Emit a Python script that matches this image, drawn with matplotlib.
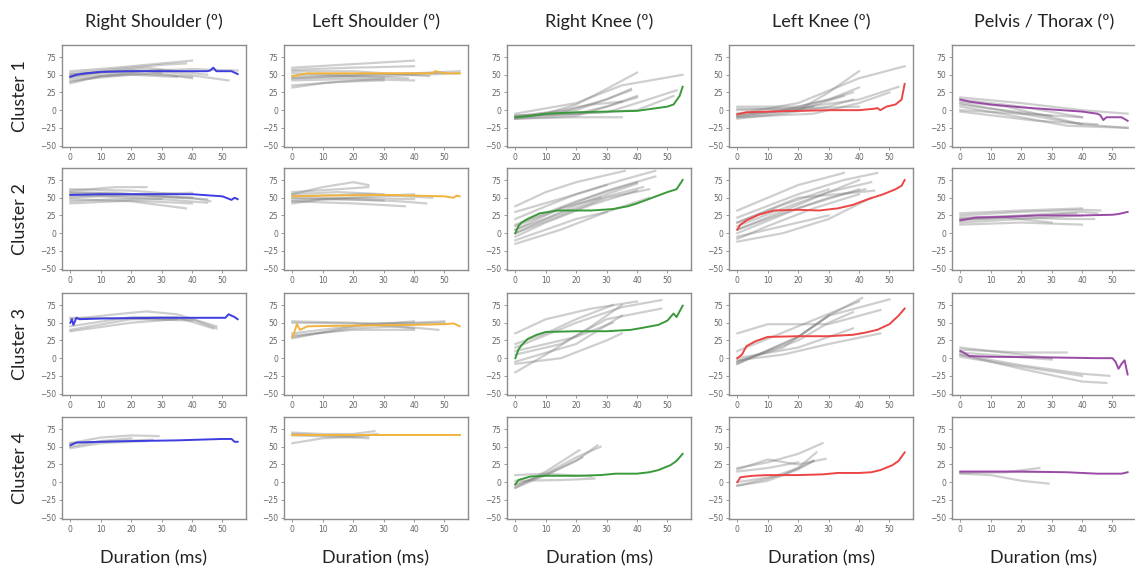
import matplotlib
matplotlib.use("Agg")
import matplotlib.pyplot as plt

# ---- column / row labels ----
joints = ["Right Shoulder (º)", "Left Shoulder (º)", "Right Knee (º)", "Left Knee (º)", "Pelvis / Thorax (º)"]
clusters = ["Cluster 1", "Cluster 2", "Cluster 3", "Cluster 4"]
joint_colors = ["#3d3de0", "#f2b33d", "#3a9a3a", "#ec4545", "#9a4aa6"]
yticks = [-50, -25, 0, 25, 50, 75]
xticks = [0, 10, 20, 30, 40, 50]

# ---- cluster mean curves (x = duration, y = angle) ----
rs1_x = [0, 2, 5, 10, 20, 30, 45, 46, 47, 48, 53, 55]
rs1_y = [47, 50, 52, 54, 55, 55, 55, 56, 60, 55, 55, 51]
rs2_x = [0, 10, 20, 30, 40, 50, 53, 54, 55]
rs2_y = [54, 55, 55, 55, 55, 52, 47, 50, 48]
rs3_x = [0, 0.5, 1, 2, 3, 10, 30, 51, 52, 54, 55]
rs3_y = [50, 55, 47, 57, 55, 56, 57, 57, 62, 58, 55]
rs4_x = [0, 2, 10, 20, 35, 50, 53, 54, 55]
rs4_y = [52, 56, 57, 58, 59, 61, 61, 57, 57]

ls1_x = [0, 5, 20, 40, 46, 47, 50, 55]
ls1_y = [48, 52, 52, 52, 52, 55, 52, 52]
ls2_x = [0, 10, 30, 40, 50, 53, 54, 55]
ls2_y = [52, 53, 54, 53, 52, 50, 53, 52]
ls3_x = [0, 0.5, 1.5, 2.5, 5, 20, 40, 50, 53, 55]
ls3_y = [30, 35, 48, 40, 45, 46, 47, 48, 49, 45]
ls4_x = [0, 10, 30, 55]
ls4_y = [66, 66, 66, 66]

rk1_x = [0, 5, 10, 20, 30, 40, 45, 50, 52, 54, 55]
rk1_y = [-10, -8, -5, -3, -2, -1, 2, 5, 8, 20, 33]
rk2_x = [0, 1, 2, 4, 8, 14, 20, 25, 32, 37, 40, 45, 50, 53, 55]
rk2_y = [0, 10, 15, 20, 28, 32, 32, 32, 34, 38, 42, 50, 58, 62, 75]
rk3_x = [0, 1, 2, 4, 7, 10, 20, 30, 38, 42, 47, 50, 52, 53, 55]
rk3_y = [0, 12, 18, 27, 33, 37, 38, 38, 40, 43, 47, 53, 63, 58, 74]
rk4_x = [0, 1, 5, 10, 20, 28, 33, 40, 44, 47, 51, 53, 55]
rk4_y = [-3, 3, 8, 9, 9, 10, 12, 12, 14, 17, 24, 30, 40]

lk1_x = [0, 1, 3, 10, 20, 30, 40, 45, 46, 47, 49, 52, 54, 55]
lk1_y = [-6, -5, -3, -2, -1, 0, 0, 2, 3, 0, 5, 8, 15, 37]
lk2_x = [0, 1, 3, 7, 12, 20, 27, 33, 38, 43, 48, 52, 54, 55]
lk2_y = [5, 12, 18, 26, 32, 33, 32, 35, 40, 48, 55, 62, 67, 75]
lk3_x = [0, 1.5, 3, 6, 10, 20, 30, 38, 42, 46, 50, 53, 55]
lk3_y = [0, 5, 17, 24, 30, 31, 31, 33, 36, 40, 48, 60, 70]
lk4_x = [0, 1, 5, 10, 20, 28, 33, 40, 44, 47, 51, 53, 55]
lk4_y = [0, 7, 9, 10, 10, 11, 13, 13, 14, 17, 24, 30, 42]

pt1_x = [0, 3, 10, 20, 30, 40, 45, 46, 47, 48, 53, 55]
pt1_y = [15, 12, 8, 4, 1, -2, -5, -7, -14, -10, -10, -15]
pt2_x = [0, 5, 15, 25, 40, 50, 52, 55]
pt2_y = [18, 22, 23, 25, 25, 26, 27, 30]
pt3_x = [0, 1, 3, 10, 30, 45, 50, 51, 52, 53, 54, 55]
pt3_y = [10, 8, 3, 2, 1, 0, 0, -5, -15, -8, -3, -23]
pt4_x = [0, 20, 35, 45, 53, 55]
pt4_y = [15, 15, 14, 12, 12, 14]

# ---- individual trials (grey), each as (x list, y list) ----
rs1_grey = [([0, 15, 30, 40], [55, 60, 66, 70]), ([0, 15, 30, 38], [52, 58, 64, 66]),
            ([0, 20, 40, 55], [48, 55, 58, 56]), ([0, 10, 25, 40], [40, 48, 55, 45]),
            ([0, 20, 40], [45, 52, 47]), ([0, 20, 35], [42, 50, 47]),
            ([0, 15, 30, 52], [50, 55, 55, 42]), ([0, 10, 30], [38, 48, 52]),
            ([0, 25, 45], [50, 60, 50]), ([0, 10, 20, 30], [47, 54, 56, 56])]
rs2_grey = [([0, 15, 25], [60, 65, 65]), ([0, 20, 35], [62, 60, 55]),
            ([0, 20, 40, 46], [58, 55, 50, 45]), ([0, 20, 38], [48, 45, 35]),
            ([0, 15, 30, 45], [45, 48, 48, 43]), ([0, 20, 40], [42, 46, 42]),
            ([0, 20, 40], [55, 52, 50]), ([0, 10, 30], [50, 52, 48]),
            ([0, 15, 35, 45], [57, 57, 50, 48]), ([0, 25, 40], [52, 55, 57])]
rs3_grey = [([0, 15, 25, 35, 48], [55, 62, 66, 62, 45]), ([0, 20, 35, 47], [45, 58, 58, 42]),
            ([0, 20, 35], [38, 50, 55]), ([0, 20, 40], [57, 56, 53]),
            ([0, 20, 40, 48], [40, 55, 55, 42])]
rs4_grey = [([0, 10, 20, 29], [55, 63, 66, 65]), ([0, 10, 20], [50, 58, 62]),
            ([0, 10, 25], [48, 55, 58]), ([0, 15, 27], [55, 58, 60])]

ls1_grey = [([0, 20, 40], [60, 65, 70]), ([0, 20, 40], [57, 60, 62]),
            ([0, 20, 40, 55], [48, 50, 52, 55]), ([0, 20, 40], [42, 44, 42]),
            ([0, 15, 30], [35, 40, 42]), ([0, 25, 50], [45, 50, 53]),
            ([0, 10, 30], [32, 38, 45]), ([0, 20, 45], [55, 55, 48]),
            ([0, 20, 38], [52, 48, 45]), ([0, 30, 55], [45, 48, 52])]
ls2_grey = [([0, 10, 20, 25], [55, 65, 72, 68]), ([0, 15, 25], [58, 62, 65]),
            ([0, 20, 40], [48, 50, 55]), ([0, 20, 37], [45, 42, 38]),
            ([0, 20, 35, 44], [50, 48, 45, 42]), ([0, 25, 46], [52, 55, 50]),
            ([0, 20, 40], [45, 50, 48]), ([0, 15, 30], [55, 58, 55]),
            ([0, 10, 30], [42, 48, 46])]
ls3_grey = [([0, 20, 40, 50], [50, 49, 50, 52]), ([0, 20, 40], [28, 45, 52]),
            ([0, 20, 35, 48], [30, 42, 45, 40]), ([0, 20, 40], [32, 40, 40]),
            ([0, 20, 40], [52, 50, 42]), ([0, 25, 50], [35, 48, 50])]
ls4_grey = [([0, 10, 20, 27], [70, 68, 68, 72]), ([0, 10, 25], [55, 62, 65]),
            ([0, 10, 20, 28], [68, 66, 65, 68]), ([0, 15, 25], [66, 64, 62])]

rk1_grey = [([0, 10, 20, 30, 40], [-10, -5, 8, 30, 53]), ([0, 20, 35, 55], [-5, 10, 35, 50]),
            ([0, 15, 30, 38], [-12, -3, 15, 30]), ([0, 20, 30, 40], [-10, -5, 5, 20]),
            ([0, 20, 38], [-8, 0, 28]), ([0, 20, 30, 40], [-12, -8, 5, 18]),
            ([0, 30, 40, 53], [-8, -3, 10, 28]), ([0, 20, 35], [-12, -10, -10]),
            ([0, 20, 40, 52], [-8, -5, 0, 20]), ([0, 15, 25, 35], [-10, 0, 8, 12])]
rk2_grey = [([0, 10, 20, 36], [38, 58, 72, 88]), ([0, 20, 35, 46], [30, 55, 75, 88]),
            ([0, 10, 20, 30], [20, 38, 55, 68]), ([0, 15, 30, 46], [10, 35, 60, 80]),
            ([0, 15, 30, 42], [5, 28, 52, 65]), ([0, 15, 30, 44], [0, 25, 50, 62]),
            ([0, 10, 25, 40], [-5, 15, 40, 60]), ([0, 15, 30, 44], [-15, 5, 30, 50]),
            ([0, 20, 30, 40], [0, 40, 55, 70]), ([0, 15, 28], [5, 35, 50]),
            ([0, 10, 20, 30], [-10, 5, 20, 30]), ([0, 20, 40], [12, 45, 72])]
rk3_grey = [([0, 10, 25, 40], [35, 55, 70, 80]), ([0, 20, 35, 48], [15, 50, 72, 82]),
            ([0, 15, 30, 48], [5, 20, 55, 70]), ([0, 10, 25, 35], [-20, 5, 45, 75]),
            ([0, 20, 32], [10, 30, 50]), ([0, 15, 30, 35], [-8, 0, 25, 35]),
            ([0, 10, 20, 32], [20, 35, 55, 75]), ([0, 20, 35], [-5, 20, 60])]
rk4_grey = [([0, 10, 20, 27], [-8, 10, 30, 52]), ([0, 10, 20, 28], [-5, 12, 35, 50]),
            ([0, 10, 21], [-8, 15, 45]), ([0, 10, 25], [10, 12, 8]),
            ([0, 15, 26], [2, 3, 5]), ([0, 10, 22], [-3, 10, 35])]

lk1_grey = [([0, 20, 30, 40], [-10, 0, 25, 55]), ([0, 20, 40, 55], [-5, 10, 45, 62]),
            ([0, 15, 30, 40], [-8, 0, 15, 32]), ([0, 20, 30, 38], [5, 5, 15, 25]),
            ([0, 20, 40, 53], [0, 3, 15, 33]), ([0, 15, 30, 38], [-12, -5, 5, 15]),
            ([0, 20, 35], [-5, 0, 20]), ([0, 25, 40, 50], [-10, -5, 10, 25]),
            ([0, 20, 40], [2, 2, 5]), ([0, 10, 25], [-8, -3, 5])]
lk2_grey = [([0, 10, 20, 35], [32, 50, 68, 85]), ([0, 20, 35, 46], [22, 55, 75, 85]),
            ([0, 15, 30], [15, 40, 62]), ([0, 15, 30, 44], [10, 35, 58, 72]),
            ([0, 15, 30, 42], [5, 28, 50, 62]), ([0, 20, 40], [0, 35, 62]),
            ([0, 10, 25, 40], [-8, 10, 35, 55]), ([0, 15, 30, 44], [-12, 0, 20, 50]),
            ([0, 20, 30, 40], [5, 40, 58, 75]), ([0, 10, 20, 30], [-5, 5, 15, 25]),
            ([0, 20, 45], [15, 50, 60])]
lk3_grey = [([0, 10, 30, 47], [35, 48, 48, 68]), ([0, 20, 30, 41], [-8, 30, 60, 85]),
            ([0, 15, 30, 50], [-5, 15, 60, 83]), ([0, 20, 30, 38], [-5, 25, 50, 65]),
            ([0, 20, 30], [-8, 30, 60]), ([0, 20, 38], [0, 15, 42]),
            ([0, 15, 30, 47], [-3, 5, 20, 35]), ([0, 20, 40], [10, 45, 80])]
lk4_grey = [([0, 10, 20, 28], [20, 28, 40, 55]), ([0, 10, 20, 29], [18, 32, 25, 33]),
            ([0, 10, 20, 26], [-5, 5, 20, 42]), ([0, 10, 20, 25], [-5, 2, 18, 30]),
            ([0, 15, 25], [0, 10, 30]), ([0, 10, 20], [15, 20, 28])]

pt1_grey = [([0, 20, 40, 55], [18, 10, 0, -5]), ([0, 20, 40, 55], [10, -5, -20, -25]),
            ([0, 20, 35, 55], [5, -10, -22, -25]), ([0, 15, 30, 40], [12, 5, -10, -20]),
            ([0, 20, 40], [0, -5, -10]), ([0, 25, 45], [-2, -15, -20]),
            ([0, 20, 40], [15, 5, -10]), ([0, 10, 30], [8, 2, -8])]
pt2_grey = [([0, 20, 40, 46], [25, 30, 33, 32]), ([0, 20, 40], [28, 32, 35]),
            ([0, 20, 40], [15, 20, 25]), ([0, 20, 35, 44], [20, 22, 20, 20]),
            ([0, 20, 40], [12, 15, 12]), ([0, 25, 38], [22, 25, 28]),
            ([0, 15, 30], [18, 22, 15]), ([0, 20, 40, 45], [20, 25, 30, 28])]
pt3_grey = [([0, 20, 35], [12, 8, 8]), ([0, 20, 30], [15, 5, 0]),
            ([0, 20, 40, 49], [5, -10, -22, -25]), ([0, 20, 40, 48], [5, -15, -33, -35]),
            ([0, 20, 40], [2, -12, -25]), ([0, 15, 30], [8, 3, -2])]
pt4_grey = [([0, 10, 20, 29], [12, 10, 2, -2]), ([0, 15, 26], [13, 14, 20]),
            ([0, 20, 30], [15, 15, 15])]

mean_x = [[rs1_x, rs2_x, rs3_x, rs4_x], [ls1_x, ls2_x, ls3_x, ls4_x],
          [rk1_x, rk2_x, rk3_x, rk4_x], [lk1_x, lk2_x, lk3_x, lk4_x],
          [pt1_x, pt2_x, pt3_x, pt4_x]]
mean_y = [[rs1_y, rs2_y, rs3_y, rs4_y], [ls1_y, ls2_y, ls3_y, ls4_y],
          [rk1_y, rk2_y, rk3_y, rk4_y], [lk1_y, lk2_y, lk3_y, lk4_y],
          [pt1_y, pt2_y, pt3_y, pt4_y]]
greys = [[rs1_grey, rs2_grey, rs3_grey, rs4_grey], [ls1_grey, ls2_grey, ls3_grey, ls4_grey],
         [rk1_grey, rk2_grey, rk3_grey, rk4_grey], [lk1_grey, lk2_grey, lk3_grey, lk4_grey],
         [pt1_grey, pt2_grey, pt3_grey, pt4_grey]]

# ---- layout (pixels of a 1135x572 canvas) ----
W, H = 1135, 572
fig = plt.figure(figsize=(W / 100, H / 100), dpi=100)
col_left = [62, 284, 507, 729, 952]
row_top = [45, 168, 293, 417]
ax_w, ax_h = 184, 102
font = ["Lato", "DejaVu Sans"]

for c in range(5):
    for r in range(4):
        ax = fig.add_axes([col_left[c] / W, 1 - (row_top[r] + ax_h) / H, ax_w / W, ax_h / H])
        for gx, gy in greys[c][r]:
            ax.plot(gx, gy, color="#808080", alpha=0.38, lw=1.6)
        ax.plot(mean_x[c][r], mean_y[c][r], color=joint_colors[c], lw=1.4)
        ax.set_xlim(-2.75, 57.75)
        ax.set_ylim(-52, 92)
        ax.set_xticks(xticks)
        ax.set_yticks(yticks)
        ax.tick_params(labelsize=5.5, labelcolor="#666666", color="#888888", length=2, width=0.6, pad=2)
        for s in ax.spines.values():
            s.set_color("#8c8c8c")
            s.set_linewidth(1.0)

for c in range(5):
    xc = (col_left[c] + ax_w / 2) / W
    fig.text(xc, 1 - 22 / H, joints[c], ha="center", va="center", fontsize=13, family=font, color="#222222")
    fig.text(xc, 1 - 558 / H, "Duration (ms)", ha="center", va="center", fontsize=13, family=font, color="#222222")

for r in range(4):
    yc = 1 - (row_top[r] + ax_h / 2) / H
    fig.text(20 / W, yc, clusters[r], ha="center", va="center", rotation=90, fontsize=13, family=font, color="#222222")

fig.savefig("out.png", dpi=100)
